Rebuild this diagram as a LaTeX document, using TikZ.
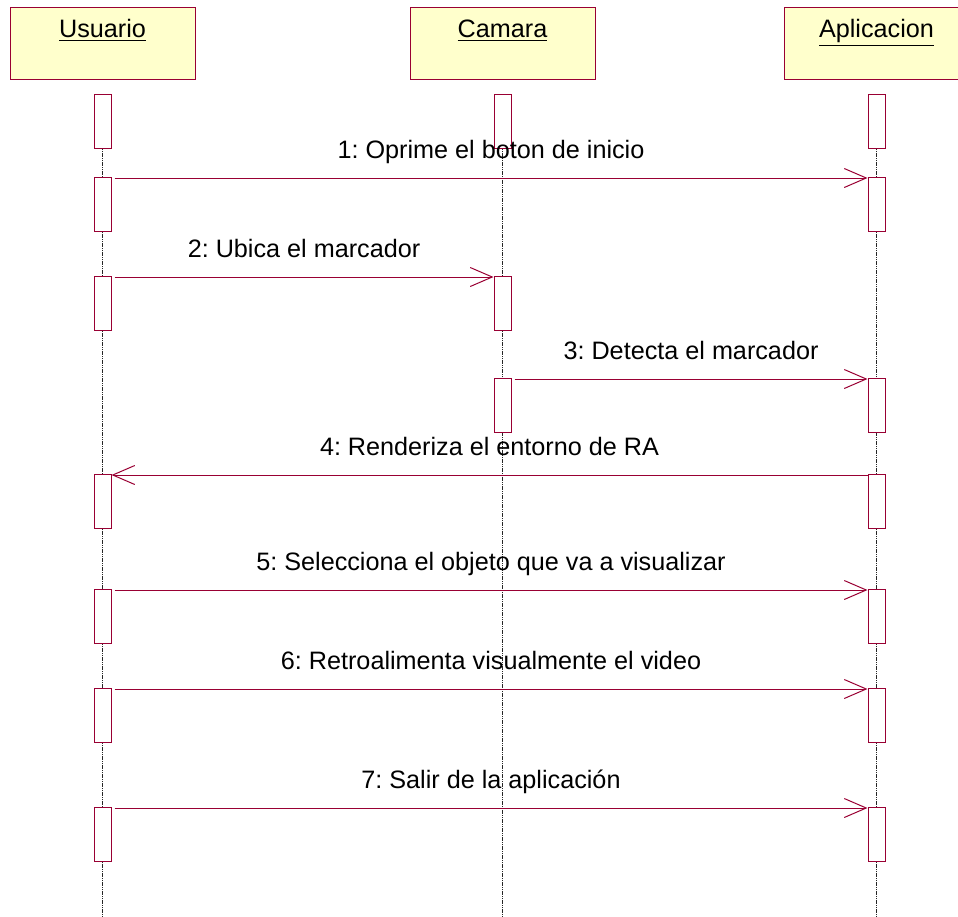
\documentclass[tikz,border=0pt]{standalone}
\usepackage{fontspec}
\setmainfont{Liberation Sans}
\usepackage{tikz}
\usetikzlibrary{positioning, arrows.meta}
\frenchspacing
\definecolor{roseline}{HTML}{990033}
\definecolor{roseyellow}{HTML}{FFFFCC}
\pgfdeclarelayer{bg}
\pgfsetlayers{bg,main}
\tikzstyle{objbox} = [rectangle, draw=roseline, fill=roseyellow, line width=0.5pt,
minimum width=92.5pt, minimum height=36pt, inner sep=0pt]
\tikzstyle{objname} = [font=\fontsize{12.6}{15}\selectfont, anchor=base, inner sep=0pt]
\tikzstyle{actbox} = [rectangle, draw=roseline, fill=white, line width=0.5pt,
minimum width=8.5pt, minimum height=27pt, inner sep=0pt, anchor=north]
\tikzstyle{msg} = [draw=roseline, line width=0.5pt, -{Straight Barb[length=11pt, width=9.5pt]}]
\tikzstyle{msglabel} = [font=\fontsize{12.6}{15}\selectfont, anchor=base, yshift=10pt, inner sep=0pt]
\tikzstyle{lifeline} = [black!85, line width=0.5pt, dash pattern=on 0.6pt off 0.3pt]

\begin{document}
\begin{tikzpicture}[x=0.5pt, y=-0.5pt]
    \useasboundingbox (0,0) rectangle (958,916);
    % objects
    \node (usuario) [objbox] at (102.5,43) {};
    \node (camara) [objbox] at (502.5,43) {};
    \node (aplicacion) [objbox] at (876.5,43) {};
    \node (usuariotxt) [objname] at (102.5,37) {\underline{Usuario}};
    \node (camaratxt) [objname] at (502.5,37) {\underline{Camara}};
    \node (aplicaciontxt) [objname] at (876.5,37) {\underline{Aplicacion}};

    % activations
    \foreach \n/\t in {0/94,1/177,2/276,4/474,5/589,6/688,7/807}
        \node (u\n) [actbox] at (102.5,\t) {};
    \foreach \n/\t in {0/94,2/276,3/378}
        \node (c\n) [actbox] at (502.5,\t) {};
    \foreach \n/\t in {0/94,1/177,3/378,4/474,5/589,6/688,7/807}
        \node (a\n) [actbox] at (876.5,\t) {};

    % lifelines
    \coordinate (ubot) at (102.5,916);
    \coordinate (cbot) at (502.5,916);
    \coordinate (abot) at (876.5,916);
    \begin{pgfonlayer}{bg}
        \draw [lifeline] (u0.south) -- (ubot);
        \draw [lifeline] (c0.south) -- (cbot);
        \draw [lifeline] (a0.south) -- (abot);
    \end{pgfonlayer}

    % messages
    \draw [msg] ([shift={(3,1)}]u1.north east) -- node[msglabel]{1: Oprime el boton de inicio} ([shift={(0,1)}]a1.north west);
    \draw [msg] ([shift={(3,1)}]u2.north east) -- node[msglabel]{2: Ubica el marcador} ([shift={(0,1)}]c2.north west);
    \draw [msg] ([shift={(3,1)}]c3.north east) -- node[msglabel]{3: Detecta el marcador} ([shift={(0,1)}]a3.north west);
    \draw [msg] ([shift={(0,1)}]a4.north west) -- node[msglabel]{4: Renderiza el entorno de RA} ([shift={(0,1)}]u4.north east);
    \draw [msg] ([shift={(3,1)}]u5.north east) -- node[msglabel]{5: Selecciona el objeto que va a visualizar} ([shift={(0,1)}]a5.north west);
    \draw [msg] ([shift={(3,1)}]u6.north east) -- node[msglabel]{6: Retroalimenta visualmente el video} ([shift={(0,1)}]a6.north west);
    \draw [msg] ([shift={(3,1)}]u7.north east) -- node[msglabel]{7: Salir de la aplicación} ([shift={(0,1)}]a7.north west);
\end{tikzpicture}
\end{document}
